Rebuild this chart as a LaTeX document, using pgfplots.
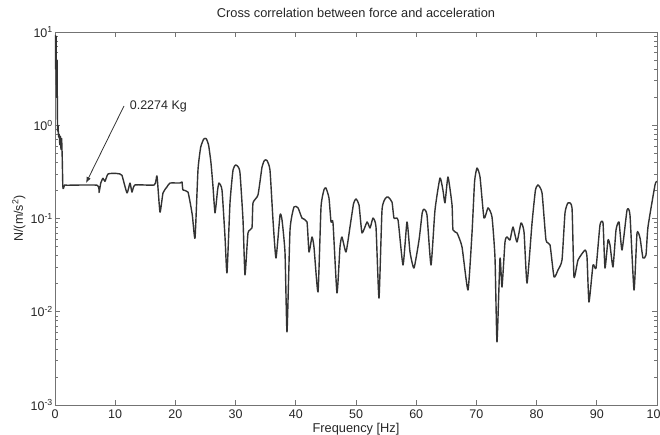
\documentclass[border=0pt]{standalone}
\usepackage{fontspec}
\setmainfont{Liberation Sans}
\usepackage{pgfplots}
\pgfplotsset{compat=1.18}
\usetikzlibrary{arrows.meta}
\begin{document}
\begin{tikzpicture}
\begin{axis}[
  at={(0pt,0pt)}, anchor=south west,
  scale only axis, width=602pt, height=373pt,
  ymode=log, xmin=0, xmax=100, ymin=1e-3, ymax=10,
  xtick={0,10,...,100},
  ytick={1e-3,1e-2,1e-1,1,10},
  yticklabels={10\textsuperscript{-3},10\textsuperscript{-2},10\textsuperscript{-1},10\textsuperscript{0},10\textsuperscript{1}},
  tick align=inside, major tick length=5pt, minor tick length=3pt,
  axis line style={black!55, line width=0.9pt},
  every tick/.style={black!55, line width=0.7pt},
  tick label style={font=\fontsize{12.5}{14}\selectfont, text=black!85},
  /pgf/number format/assume math mode=true,
  xticklabel style={anchor=north, inner sep=0pt, yshift=-5pt},
  yticklabel style={anchor=east, inner sep=0pt, xshift=-2pt},
  title={Cross correlation between force and acceleration},
  title style={at={(axis description cs:0.5,1.024)}, anchor=base, inner sep=0pt, font=\fontsize{12.8}{14}\selectfont, text=black!85},
  xlabel={Frequency [Hz]},
  xlabel style={at={(axis description cs:0.5,-0.075)}, anchor=base, inner sep=0pt, font=\fontsize{12.8}{14}\selectfont, text=black!85},
  ylabel={N/(m/s\textsuperscript{2})},
  ylabel style={at={(axis description cs:-0.06,0.5)}, anchor=center, inner sep=0pt, font=\fontsize{12.5}{14}\selectfont, text=black!85},
]
\addplot[black!80, line width=1.4pt, line join=round, smooth, tension=0.3] table {
x y
0.00 9.3
0.10 4.0
0.18 9.0
0.26 2.0
0.34 5.0
0.42 0.9
0.50 1.0
0.60 0.75
0.70 0.80
0.80 0.62
0.90 0.76
1.00 0.55
1.10 0.72
1.20 0.45
1.30 0.22
1.40 0.21
1.60 0.229
2.00 0.2274
7.00 0.2274
7.31 0.19
7.60 0.24
7.97 0.27
8.30 0.25
8.80 0.30
10.00 0.305
10.80 0.30
11.13 0.29
11.96 0.188
12.46 0.24
12.79 0.192
13.29 0.229
16.50 0.229
16.94 0.286
17.44 0.117
17.94 0.188
18.60 0.218
19.10 0.24
20.76 0.24
21.10 0.246
21.26 0.202
22.09 0.192
22.80 0.11
23.26 0.0618
23.75 0.331
24.20 0.58
24.70 0.71
25.10 0.72
25.50 0.62
25.90 0.40
26.25 0.218
26.58 0.115
27.00 0.20
27.24 0.240
27.74 0.202
28.24 0.0634
28.57 0.0261
29.07 0.147
29.57 0.331
30.00 0.375
30.40 0.36
30.73 0.308
31.23 0.0965
31.56 0.0248
32.06 0.070
32.72 0.0791
32.89 0.147
33.72 0.179
34.39 0.357
34.80 0.42
35.20 0.42
35.71 0.331
36.21 0.0965
36.71 0.0377
37.38 0.109
37.71 0.0965
38.21 0.0427
38.54 0.00607
39.04 0.0753
39.70 0.133
40.37 0.130
41.03 0.101
41.86 0.0918
42.19 0.0437
42.69 0.0634
43.02 0.0495
43.69 0.0163
44.19 0.133
44.70 0.205
45.02 0.212
45.51 0.166
45.85 0.0918
46.18 0.0895
46.84 0.0159
47.34 0.0495
47.67 0.0634
48.34 0.0437
49.00 0.0811
49.60 0.145
50.00 0.162
50.50 0.140
51.00 0.070
51.83 0.0918
52.33 0.0791
52.82 0.101
53.32 0.0811
53.82 0.0140
54.32 0.123
54.90 0.165
55.32 0.170
55.98 0.150
56.31 0.101
56.98 0.0965
57.81 0.0317
58.47 0.0918
58.97 0.0437
59.63 0.0294
60.47 0.0588
61.00 0.115
61.30 0.126
61.79 0.109
62.46 0.0317
63.12 0.123
63.95 0.272
64.45 0.20
64.78 0.147
65.28 0.279
65.95 0.140
66.11 0.0753
66.78 0.070
67.61 0.0495
68.60 0.0171
69.27 0.070
69.70 0.25
70.10 0.348
70.60 0.279
71.26 0.101
71.93 0.130
72.59 0.104
73.09 0.0377
73.42 0.00474
73.92 0.0377
74.25 0.0184
74.75 0.056
75.08 0.0634
75.58 0.0588
76.08 0.0811
76.74 0.056
77.41 0.0895
77.91 0.0717
78.41 0.0203
79.24 0.0895
79.80 0.20
80.23 0.229
80.90 0.188
81.56 0.0588
82.23 0.052
82.89 0.0236
83.55 0.0280
84.22 0.0359
84.72 0.115
85.22 0.147
85.88 0.130
86.21 0.0236
86.88 0.0359
88.04 0.0459
88.37 0.0387
88.70 0.0127
89.37 0.0317
89.87 0.0294
90.53 0.0852
91.03 0.0895
91.36 0.0294
91.86 0.0588
92.19 0.052
92.69 0.0302
93.19 0.0753
93.69 0.0918
94.19 0.0459
95.02 0.123
95.51 0.109
96.18 0.0171
96.68 0.070
97.18 0.0618
97.67 0.0377
98.17 0.0406
98.50 0.0811
99.67 0.229
100.00 0.25
};
\draw[black!80, line width=0.8pt, -{Latex[length=6pt,width=4.5pt]}] (axis cs:11.46,1.61) -- (axis cs:5.15,0.24);
\node[anchor=mid west, inner sep=0pt, font=\fontsize{12.5}{14}\selectfont, text=black!85] at (axis cs:12.4,1.57) {0.2274 Kg};
\end{axis}
\pgfresetboundingbox
\path[use as bounding box] (-55pt,-30pt) rectangle (605pt,405pt);
\end{tikzpicture}
\end{document}
